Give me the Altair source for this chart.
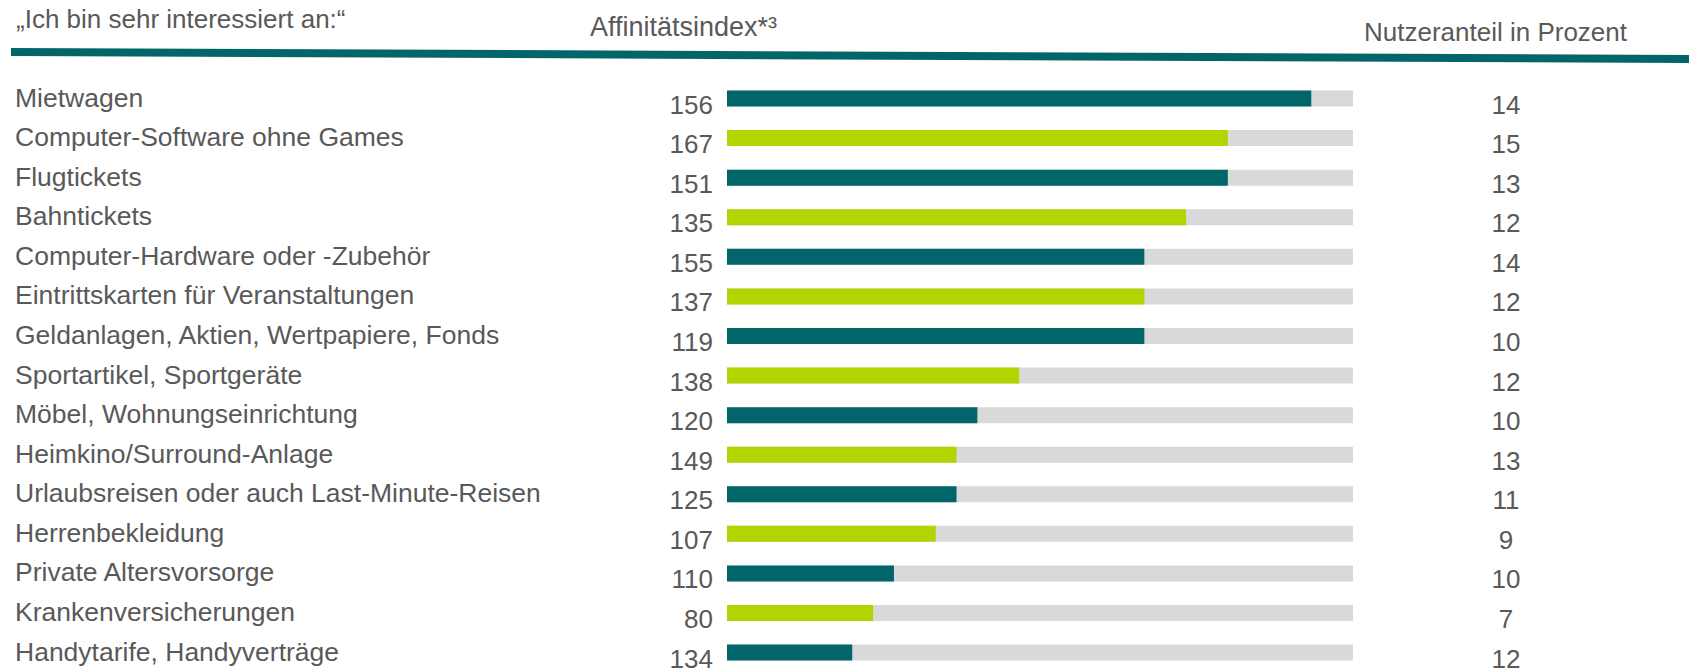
import altair as alt
import pandas as pd

# ---- data ----
categories = [
    "Mietwagen",
    "Computer-Software ohne Games",
    "Flugtickets",
    "Bahntickets",
    "Computer-Hardware oder -Zubehör",
    "Eintrittskarten für Veranstaltungen",
    "Geldanlagen, Aktien, Wertpapiere, Fonds",
    "Sportartikel, Sportgeräte",
    "Möbel, Wohnungseinrichtung",
    "Heimkino/Surround-Anlage",
    "Urlaubsreisen oder auch Last-Minute-Reisen",
    "Herrenbekleidung",
    "Private Altersvorsorge",
    "Krankenversicherungen",
    "Handytarife, Handyverträge",
]
bar_values = [28, 24, 24, 22, 20, 20, 20, 14, 12, 11, 11, 10, 8, 7, 6]
affinity_index = [156, 167, 151, 135, 155, 137, 119, 138, 120, 149, 125, 107, 110, 80, 134]
user_share = [14, 15, 13, 12, 14, 12, 10, 12, 10, 13, 11, 9, 10, 7, 12]
scale_max = 30

title_text = "„Ich bin sehr interessiert an:“"
header_index = "Affinitätsindex*³"
header_share = "Nutzeranteil in Prozent"

# ---- styling ----
TEAL = "#00666A"
LIME = "#B2D400"
GREY = "#D9D9D9"
TXT = "#595959"
FONT = "Liberation Sans"
FS = 26
FS_LABEL = 26.5

df = pd.DataFrame({
    "cat": categories,
    "val": bar_values,
    "idx": affinity_index,
    "share": user_share,
    "row": list(range(len(categories))),
})
df["shade"] = ["a" if i % 2 == 0 else "b" for i in range(len(df))]
df["full"] = scale_max

W, H = 1681, 661

yenc = alt.Y(
    "row:Q",
    scale=alt.Scale(domain=[0, len(categories) - 1], range=[90.5, 644.6], nice=False, zero=False, padding=0),
    axis=None,
)
xscale = alt.Scale(domain=[0, scale_max], range=[719, 1345], nice=False, padding=0)

base = alt.Chart(df)

bg = base.mark_bar(orient="horizontal", size=16, color=GREY).encode(
    x=alt.X("full:Q", scale=xscale, axis=None),
    y=yenc,
)
bars = base.mark_bar(orient="horizontal", size=16).encode(
    x=alt.X("val:Q", scale=xscale, axis=None),
    y=yenc,
    color=alt.Color("shade:N", scale=alt.Scale(domain=["a", "b"], range=[TEAL, LIME]), legend=None),
)
labels = base.mark_text(align="left", baseline="alphabetic", dy=8, font=FONT, fontSize=FS_LABEL, color=TXT).encode(
    x=alt.value(7), y=yenc, text="cat:N"
)
idx_txt = base.mark_text(align="right", baseline="alphabetic", dy=15, font=FONT, fontSize=FS, color=TXT).encode(
    x=alt.value(705), y=yenc, text="idx:Q"
)
share_txt = base.mark_text(align="center", baseline="alphabetic", dy=15, font=FONT, fontSize=FS, color=TXT).encode(
    x=alt.value(1498), y=yenc, text="share:Q"
)

hdr = pd.DataFrame({"t": [title_text, header_index, header_share]})
title_m = alt.Chart(hdr).transform_filter(alt.datum.t == title_text).mark_text(
    align="left", baseline="alphabetic", font=FONT, fontSize=FS, color=TXT
).encode(x=alt.value(8), y=alt.value(20), text="t:N")
hidx_m = alt.Chart(hdr).transform_filter(alt.datum.t == header_index).mark_text(
    align="left", baseline="alphabetic", font=FONT, fontSize=27, color=TXT
).encode(x=alt.value(582), y=alt.value(28), text="t:N")
hshare_m = alt.Chart(hdr).transform_filter(alt.datum.t == header_share).mark_text(
    align="right", baseline="alphabetic", font=FONT, fontSize=FS, color=TXT
).encode(x=alt.value(1619), y=alt.value(33), text="t:N")

line = alt.Chart(pd.DataFrame({"k": [0]})).mark_rule(color=TEAL, strokeWidth=8).encode(
    x=alt.value(3), x2=alt.value(W), y=alt.value(44), y2=alt.value(51)
)

chart = alt.layer(line, title_m, hidx_m, hshare_m, bg, bars, labels, idx_txt, share_txt).properties(
    width=W, height=H, padding=0, autosize=alt.AutoSizeParams(type="none")
).configure_view(stroke=None)

chart.save("out.html", embed_options={"renderer": "svg", "actions": False})
